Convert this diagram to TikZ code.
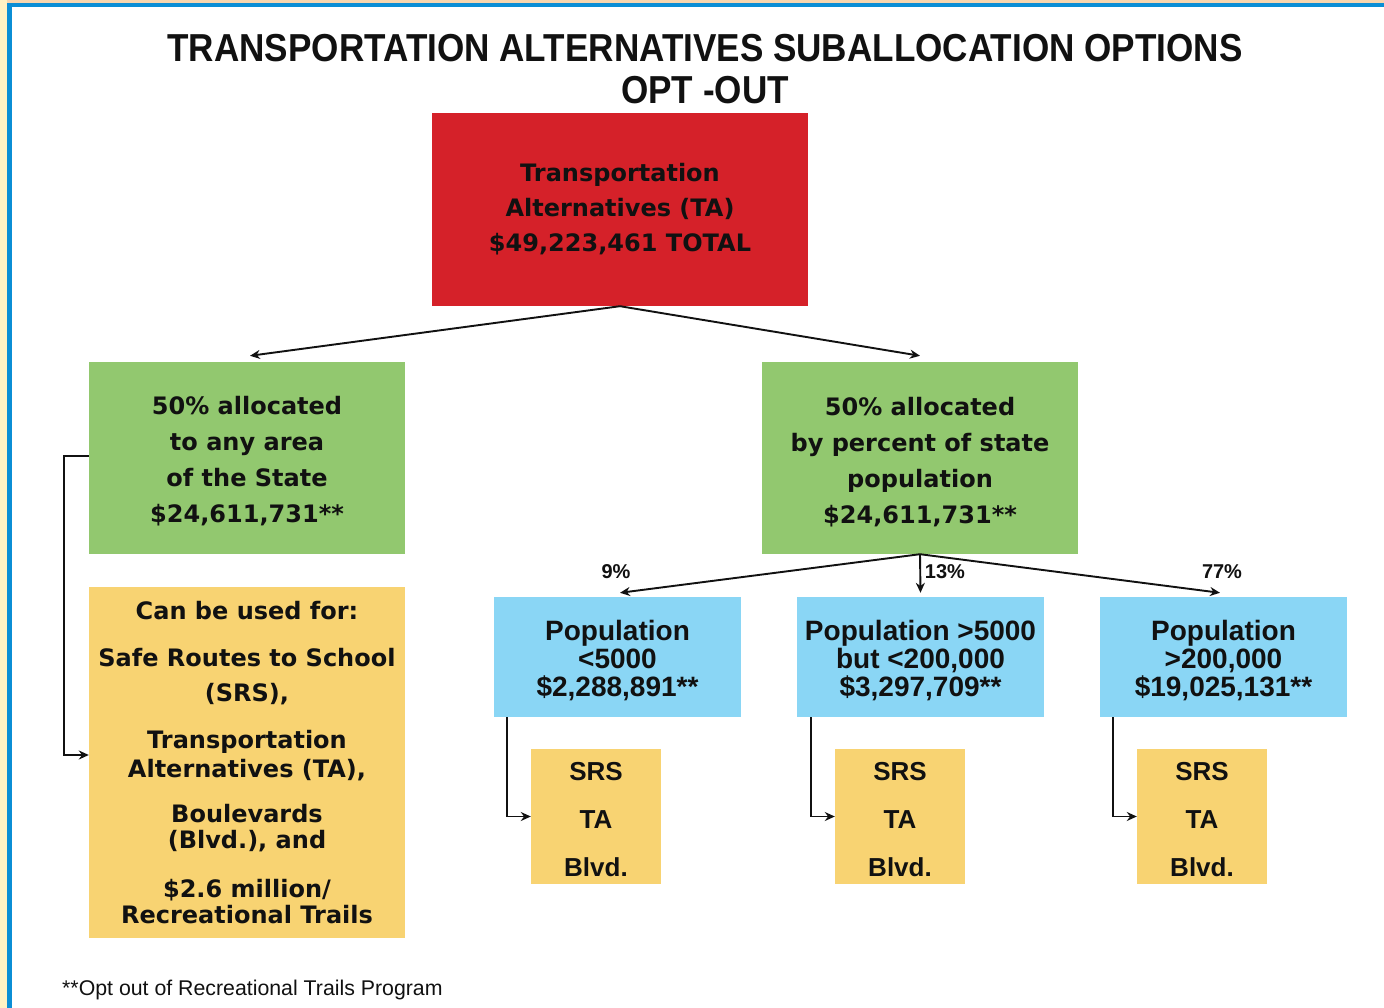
\documentclass[tikz,border=0pt]{standalone}
\usepackage{fontspec}
\setmainfont{Liberation Sans}
\newfontfamily\widefont{DejaVu Sans}
\usetikzlibrary{arrows.meta}
\definecolor{tared}{HTML}{D52129}
\definecolor{tagreen}{HTML}{92C86F}
\definecolor{tayellow}{HTML}{F8D372}
\definecolor{tablue}{HTML}{8AD6F5}
\definecolor{frameblue}{HTML}{0B8ED5}
\definecolor{framecream}{HTML}{FFF2C4}
\definecolor{framepeach}{HTML}{F8D6AE}
\definecolor{ink}{HTML}{111111}
\begin{document}
\begin{tikzpicture}[x=1pt,y=-1pt,
  box/.style={rectangle, inner sep=0pt, align=center, text=ink},
  txt/.style={inner sep=0pt, align=center, text=ink},
  widetxt/.style={font=\widefont\bfseries\fontsize{24}{35}\selectfont},
  greentxt/.style={font=\widefont\bfseries\fontsize{24}{36}\selectfont},
  conn/.style={draw=ink, line width=1.9pt, -{Stealth[length=10pt,width=9pt]}},
  pct/.style={font=\bfseries\fontsize{20}{20}\selectfont, text=ink, inner sep=0pt},
  bluetxt/.style={font=\bfseries\fontsize{28}{28}\selectfont},
  srstxt/.style={font=\bfseries\fontsize{26}{48}\selectfont}]
\useasboundingbox (0,0) rectangle (1384,1008);
\fill[white] (0,0) rectangle (1384,1008);
% frame
\fill[framepeach] (0,0) rectangle (1384,3);
\fill[framecream] (0,0) rectangle (7,1008);
\fill[frameblue] (7,3) rectangle (1384,7.5);
\fill[frameblue] (7,3) rectangle (11.5,1008);
% title
\node[text=ink, anchor=base, inner sep=0pt, font=\bfseries\fontsize{39}{39}\selectfont] (t1) at (705,62)
  {\scalebox{0.9}[1]{TRANSPORTATION ALTERNATIVES SUBALLOCATION OPTIONS}};
\node[text=ink, anchor=base, inner sep=0pt, font=\bfseries\fontsize{39}{39}\selectfont] (t2) at (705,104)
  {\scalebox{0.9}[1]{OPT -OUT}};
% boxes
\node[box, widetxt, fill=tared, minimum width=376pt, minimum height=193pt] (red) at (620,209.5)
  {Transportation\\Alternatives (TA)\\\$49,223,461 TOTAL};
\node[box, fill=tagreen, minimum width=316pt, minimum height=192pt] (gl) at (247,458) {};
\node[txt, greentxt] (glt) at (247,461) {50\% allocated\\to any area\\of the State\\\$24,611,731**};
\node[box, fill=tagreen, minimum width=316pt, minimum height=192pt] (gr) at (920,458) {};
\node[txt, greentxt] (grt) at (920,462) {50\% allocated\\by percent of state\\population\\\$24,611,731**};
\node[box, font=\widefont\bfseries\fontsize{24}{26}\selectfont, fill=tayellow, minimum width=316pt, minimum height=351pt] (yl) at (247,762.5)
  {Can be used for:\\[21pt]
   Safe Routes to School\\[9pt]
   (SRS),\\[21pt]
   Transportation\\[3pt]
   Alternatives (TA),\\[19pt]
   Boulevards\\
   (Blvd.), and\\[23pt]
   \$2.6 million/\\
   Recreational Trails};
\node[box, fill=tablue, minimum width=247pt, minimum height=120pt] (b1) at (617.5,657) {};
\node[txt, bluetxt] (b1t) at (617.5,661) {Population\\<5000\\\$2,288,891**};
\node[box, fill=tablue, minimum width=247pt, minimum height=120pt] (b2) at (920.5,657) {};
\node[txt, bluetxt] (b2t) at (920.5,661) {Population >5000\\but <200,000\\\$3,297,709**};
\node[box, fill=tablue, minimum width=247pt, minimum height=120pt] (b3) at (1223.5,657) {};
\node[txt, bluetxt] (b3t) at (1223.5,661) {Population\\>200,000\\\$19,025,131**};
\node[box, fill=tayellow, minimum width=130pt, minimum height=135pt] (s1) at (596,816.5) {};
\node[txt, srstxt] (s1t) at (596,819.5) {SRS\\TA\\Blvd.};
\node[box, fill=tayellow, minimum width=130pt, minimum height=135pt] (s2) at (900,816.5) {};
\node[txt, srstxt] (s2t) at (900,819.5) {SRS\\TA\\Blvd.};
\node[box, fill=tayellow, minimum width=130pt, minimum height=135pt] (s3) at (1202,816.5) {};
\node[txt, srstxt] (s3t) at (1202,819.5) {SRS\\TA\\Blvd.};
% connectors
\draw[conn] (red.south) -- ([xshift=3pt,yshift=6pt]gl.north);
\draw[conn] (red.south) -- ([yshift=6pt]gr.north);
\draw[conn] (gr.south) -- ([xshift=2.5pt,yshift=4pt]b1.north);
\draw[conn] (gr.south) -- ([yshift=4pt]b2.north);
\draw[conn] (gr.south) -- ([xshift=-3.5pt,yshift=4pt]b3.north);
\draw[conn] ([yshift=2pt]gl.west) -- ++(-25,0) |- ([yshift=7.5pt]yl.west);
\draw[conn] ([xshift=13pt]b1.south west) |- (s1.west);
\draw[conn] ([xshift=14pt]b2.south west) |- (s2.west);
\draw[conn] ([xshift=13pt]b3.south west) |- (s3.west);
% percent labels
\node[pct] (p9) at (616,572) {9\%};
\node[pct] (p13) at (945,572) {13\%};
\node[pct] (p77) at (1222,572) {77\%};
% footnote
\node[anchor=base west, inner sep=0pt, text=ink, font=\fontsize{21.3}{21.3}\selectfont] (fn) at (62,995)
  {**Opt out of Recreational Trails Program};
\end{tikzpicture}
\end{document}
